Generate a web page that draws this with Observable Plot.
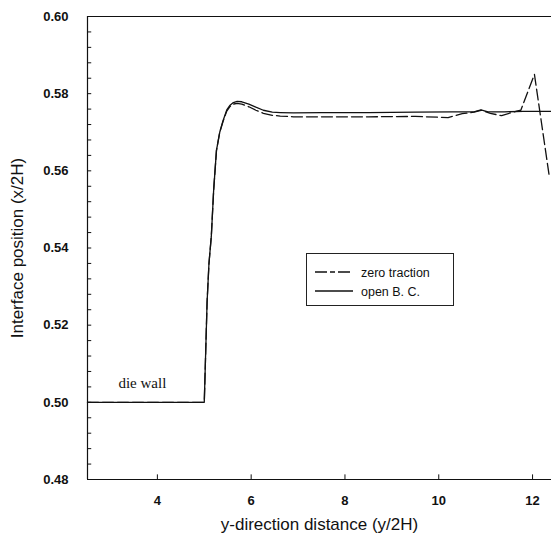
<!DOCTYPE html>
<html>
<head>
<meta charset="utf-8">
<script src="https://cdn.jsdelivr.net/npm/d3@7"></script>
<script src="https://cdn.jsdelivr.net/npm/@observablehq/plot@0.6"></script>
<style>
  html, body { margin: 0; padding: 0; background: #fff; }
  #wrap { position: relative; width: 551px; height: 541px; overflow: hidden; }
  #legend { position: absolute; left: 306px; top: 253px; width: 148px; height: 53px;
            border: 1px solid #222; background: #fff; box-sizing: border-box; }
</style>
</head>
<body>
<div id="wrap"><div id="chart"></div><div id="legend"></div></div>
<script>
// open B.C. (solid)
const openX = [2.51, 5.0, 5.03, 5.06, 5.10, 5.15, 5.20, 5.26, 5.33, 5.40, 5.48, 5.55, 5.62, 5.70, 5.80, 5.95, 6.10, 6.26, 6.45, 6.62, 6.9, 7.5, 8.5, 9.5, 10.3, 10.75, 10.9, 11.05, 11.4, 11.8, 12.404];
const openY = [0.500, 0.500, 0.513, 0.526, 0.536, 0.543, 0.555, 0.5653, 0.5700, 0.5730, 0.5758, 0.5770, 0.5777, 0.5780, 0.5779, 0.5773, 0.5765, 0.5757, 0.5752, 0.5751, 0.5750, 0.5751, 0.5751, 0.5752, 0.5753, 0.5753, 0.5758, 0.5753, 0.5753, 0.5754, 0.5754];
// zero traction (dashed)
const zeroX = [2.51, 5.0, 5.03, 5.06, 5.10, 5.15, 5.20, 5.26, 5.33, 5.40, 5.48, 5.55, 5.62, 5.70, 5.80, 5.95, 6.10, 6.26, 6.45, 6.62, 6.9, 7.5, 8.5, 9.5, 10.2, 10.5, 10.75, 10.9, 11.1, 11.34, 11.66, 11.75, 12.04, 12.36];
const zeroY = [0.500, 0.500, 0.513, 0.526, 0.536, 0.543, 0.555, 0.5653, 0.5700, 0.5728, 0.5755, 0.5767, 0.5773, 0.5775, 0.5773, 0.5766, 0.5757, 0.5749, 0.5744, 0.5742, 0.5740, 0.5740, 0.5740, 0.5741, 0.5738, 0.5748, 0.5752, 0.5757, 0.5749, 0.5743, 0.5755, 0.5757, 0.5850, 0.5583];

const xTicks = [4, 6, 8, 10, 12];
const yTicks = [0.48, 0.50, 0.52, 0.54, 0.56, 0.58, 0.60];
const yMinor = d3.range(0, 31).map(i => +(0.48 + i * 0.004).toFixed(3));
const xDomain = [2.51, 12.404];
const yDomain = [0.48, 0.60];
const notes = [{x: 3.68, y: 0.5036, text: "die wall"}];
const legendItems = [{label: "zero traction", dash: "12,3,5,3"}, {label: "open B. C.", dash: null}];

const openData = openX.map((x, i) => ({x, y: openY[i]}));
const zeroData = zeroX.map((x, i) => ({x, y: zeroY[i]}));

const chart = Plot.plot({
  width: 551, height: 541,
  marginLeft: 87, marginRight: 0, marginTop: 16, marginBottom: 62,
  style: {fontFamily: "Liberation Sans, Arial, sans-serif", background: "#fff", color: "#111"},
  x: {domain: xDomain, ticks: xTicks, label: "y-direction distance (y/2H)"},
  y: {domain: yDomain, ticks: yTicks, label: "Interface position (x/2H)"},
  marks: [
    Plot.axisX(xTicks, {tickSize: 0, tickPadding: 16, fontSize: 13, fontWeight: 600, label: "y-direction distance (y/2H)", labelAnchor: "center", labelArrow: "none", labelOffset: 50, fill: "#111"}),
    Plot.axisY(yTicks, {tickSize: 0, tickPadding: 19, fontSize: 13, fontWeight: 600, tickFormat: d3.format(".2f"), label: "Interface position (x/2H)", labelAnchor: "center", labelArrow: "none", labelOffset: 77, fill: "#111"}),
    // frame lines
    Plot.ruleY([yDomain[1]], {stroke: "#111", strokeWidth: 1.2}),
    Plot.ruleY([yDomain[0]], {stroke: "#111", strokeWidth: 1.2}),
    Plot.ruleX([xDomain[0]], {stroke: "#111", strokeWidth: 1.2}),
    // inward ticks
    Plot.ruleX(xTicks, {x: d => d, y1: yDomain[0], y2: yDomain[0] + 0.0012, stroke: "#111"}),
    Plot.ruleY(yMinor, {y: d => d, x1: xDomain[0], x2: xDomain[0] + 0.09, stroke: "#111"}),
    // data
    Plot.line(openData, {x: "x", y: "y", stroke: "#111", strokeWidth: 1.3}),
    Plot.line(zeroData, {x: "x", y: "y", stroke: "#111", strokeWidth: 1.3, strokeDasharray: "11,4"}),
    Plot.text(notes, {x: "x", y: "y", text: "text", fontFamily: "Liberation Serif, Times New Roman, serif", fontSize: 15, fill: "#111", lineAnchor: "bottom"})
  ]
});
chart.querySelectorAll('[aria-label="x-axis label"] text, [aria-label="y-axis label"] text').forEach(t => { t.setAttribute("font-size", 17); t.setAttribute("font-weight", "normal"); });
document.getElementById("chart").appendChild(chart);

// legend
const lg = d3.select("#legend").append("svg").attr("width", 146).attr("height", 51);
legendItems.forEach((it, i) => {
  const cy = 18 + i * 19;
  lg.append("line").attr("x1", 8).attr("x2", 46).attr("y1", cy).attr("y2", cy)
    .attr("stroke", "#111").attr("stroke-width", 1.3).attr("stroke-dasharray", it.dash);
  lg.append("text").attr("x", 54).attr("y", cy + 4.5).text(it.label)
    .attr("font-family", "Liberation Sans, Arial, sans-serif").attr("font-size", 12.5).attr("fill", "#111");
});
</script>
</body>
</html>
